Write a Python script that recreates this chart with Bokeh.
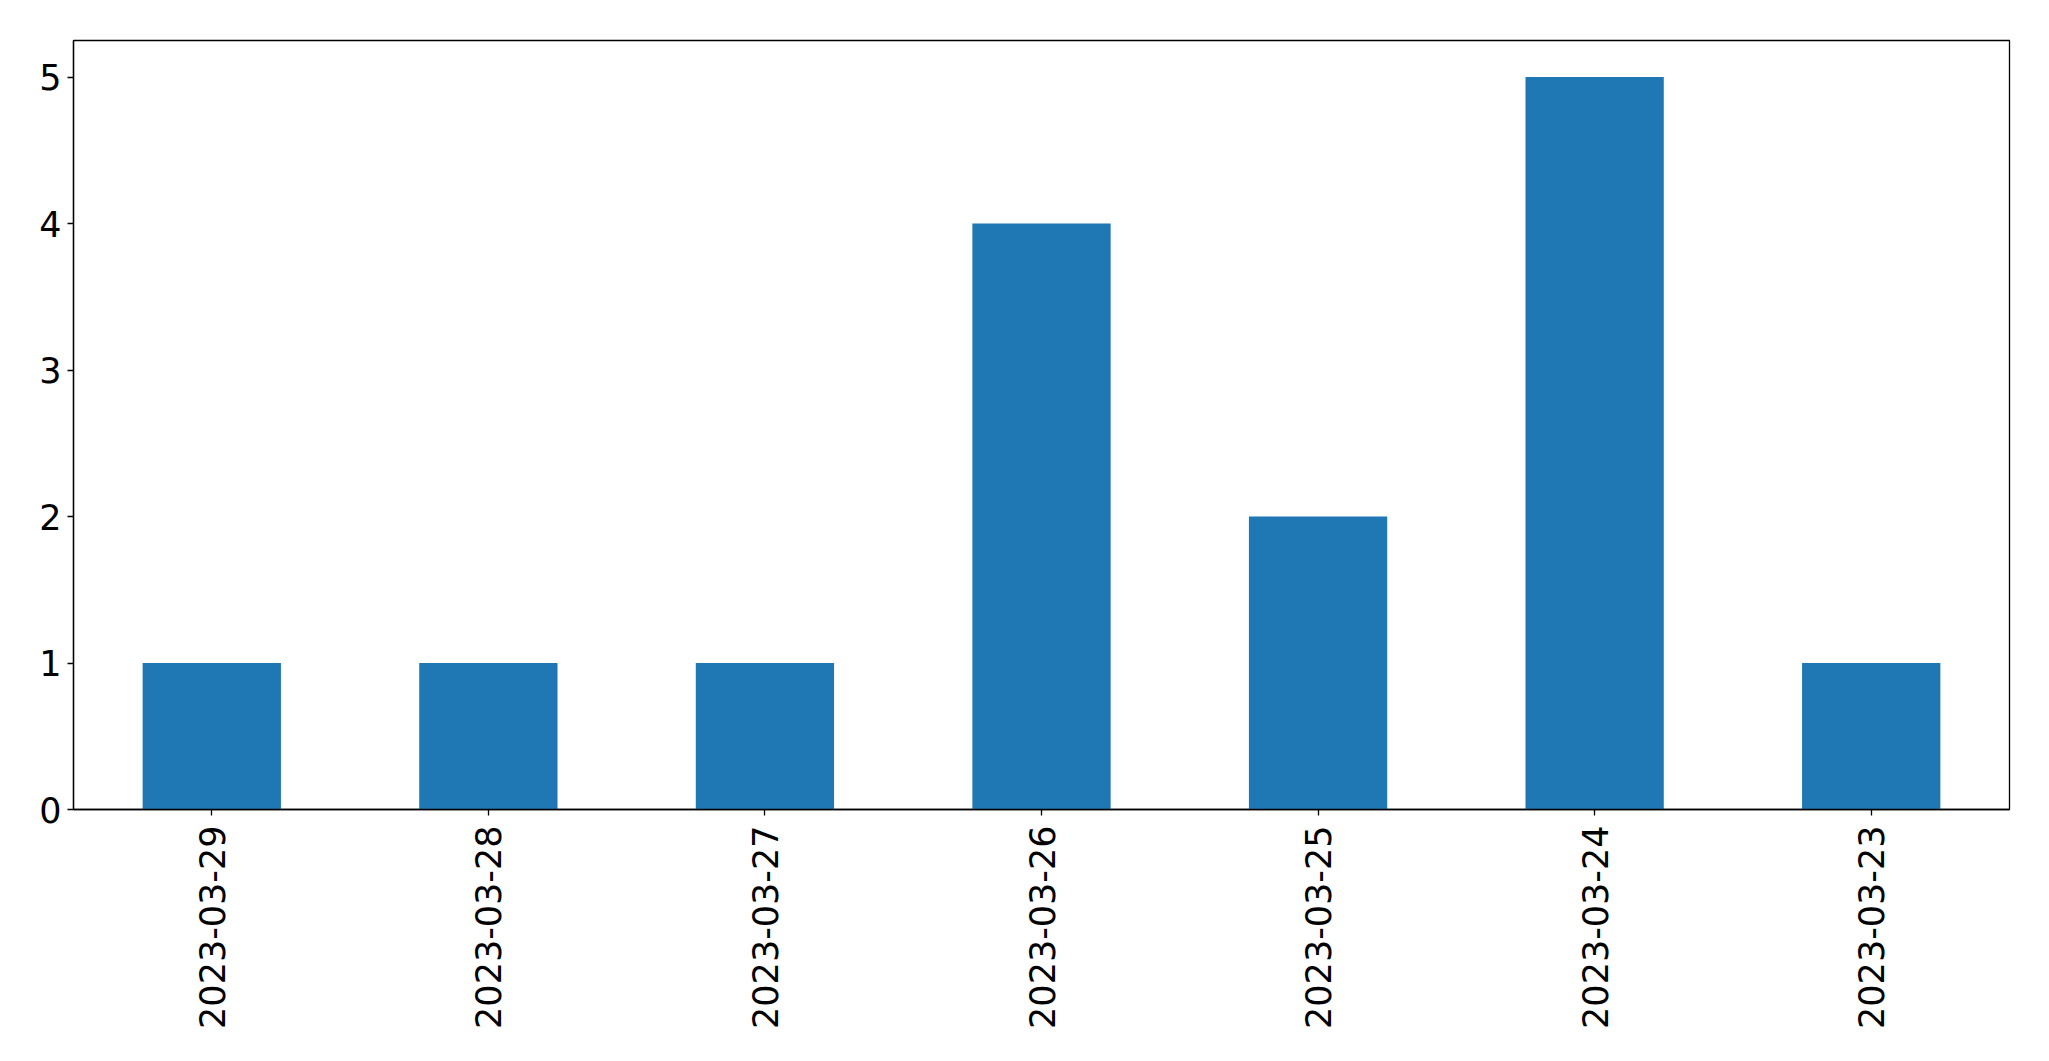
from bokeh.plotting import figure
from bokeh.models import FactorRange, Range1d, FixedTicker, ColumnDataSource
from bokeh.embed import file_html
from bokeh.resources import INLINE
import math

dates = ["2023-03-29", "2023-03-28", "2023-03-27", "2023-03-26",
         "2023-03-25", "2023-03-24", "2023-03-23"]
counts = [1, 1, 1, 4, 2, 5, 1]
y_ticks = [0, 1, 2, 3, 4, 5]

src = ColumnDataSource(data=dict(x=dates, top=counts))

p = figure(x_range=FactorRange(*dates), y_range=Range1d(0, 5.25),
           width=2033, height=1045, frame_width=1936, frame_height=769,
           min_border_left=73, min_border_top=40, min_border_right=24,
           min_border_bottom=236,
           output_backend="svg", toolbar_location=None)

p.vbar(x="x", top="top", width=0.5, bottom=0, source=src,
       fill_color="#1f77b4", line_color=None)

p.xgrid.visible = False
p.ygrid.visible = False
p.outline_line_color = "black"
p.outline_line_width = 1.3
p.outline_line_alpha = 1

for ax in (p.xaxis[0], p.yaxis[0]):
    ax.axis_line_color = "black"
    ax.axis_line_width = 1.3
    ax.major_tick_line_color = "black"
    ax.major_tick_line_width = 1.3
    ax.major_tick_out = 6
    ax.major_tick_in = 0
    ax.minor_tick_line_color = None
    ax.major_label_text_font = "DejaVu Sans"
    ax.major_label_text_font_size = "35px"
    ax.major_label_text_color = "black"

p.yaxis[0].ticker = FixedTicker(ticks=y_ticks)
p.yaxis[0].major_label_standoff = 6
p.xaxis[0].major_label_orientation = math.pi / 2
p.xaxis[0].major_label_standoff = 10

open("out.html", "w").write(file_html(p, INLINE))
